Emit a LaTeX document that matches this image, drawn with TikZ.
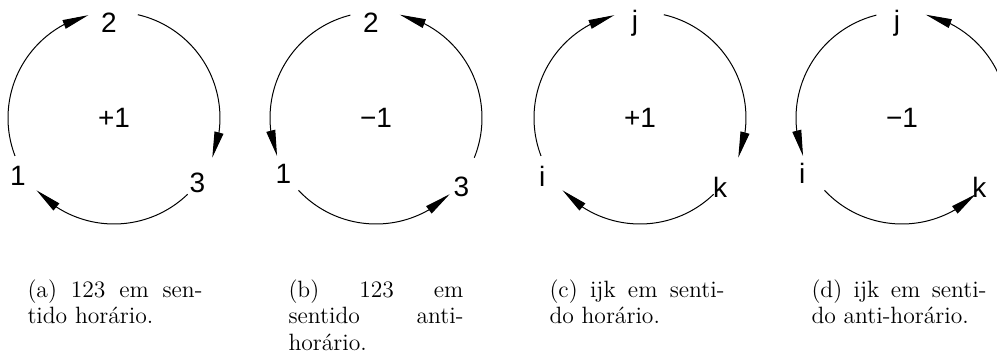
\documentclass[tikz,border=0pt]{standalone}
\usepackage{fontspec}
\newfontfamily\cadfont{Liberation Sans}
\usetikzlibrary{arrows.meta, bending}

\tikzset{
  ring/.style={line width=0.5pt, -{Triangle[length=13pt, width=4.5pt]}},
  vlabel/.style={font=\cadfont\fontsize{14}{16}\selectfont, inner sep=0pt},
  sign/.style={font=\cadfont\fontsize{14}{16}\selectfont, inner sep=0pt},
  subcap/.style={text width=87.5pt, align=justify, anchor=north, inner sep=0pt,
    font=\fontsize{11.8}{13.3}\selectfont}
}

\begin{document}
\begin{tikzpicture}[x=0.5pt, y=0.5pt]

\clip (0,0) rectangle (997,358);

% Centres
\coordinate (A) at (114,240);
\coordinate (B) at (376,240);
\coordinate (C) at (640,240);
\coordinate (D) at (902,240);

% (a) 123, clockwise
\node[vlabel] (a2) at ([shift={(93:47.5pt)}]A) {2};
\node[vlabel] (a1) at ([shift={(211:56pt)}]A) {1};
\node[vlabel] (a3) at ([shift={(-38:53pt)}]A) {3};
\node[sign] (as) at (A) {+1};
\coordinate (a23) at ([shift={(77:53pt)}]A);
\coordinate (a31) at ([shift={(-46:53pt)}]A);
\coordinate (a12) at ([shift={(201:53pt)}]A);
\draw[ring] (a23) arc[start angle=77, end angle=-22, radius=53pt];
\draw[ring] (a31) arc[start angle=-46, end angle=-137, radius=53pt];
\draw[ring] (a12) arc[start angle=201, end angle=104, radius=53pt];

% (b) 123, anticlockwise
\node[vlabel] (b2) at ([shift={(93:47.5pt)}]B) {2};
\node[vlabel] (b1) at ([shift={(211:54pt)}]B) {1};
\node[vlabel] (b3) at ([shift={(-39:55pt)}]B) {3};
\node[sign] (bs) at (B) {−1};
\coordinate (b21) at ([shift={(104:53pt)}]B);
\coordinate (b13) at ([shift={(223:53pt)}]B);
\coordinate (b32) at ([shift={(-22:53pt)}]B);
\draw[ring] (b21) arc[start angle=104, end angle=201, radius=53pt];
\draw[ring] (b13) arc[start angle=223, end angle=314, radius=53pt];
\draw[ring] (b32) arc[start angle=-22, end angle=77, radius=53pt];

% (c) ijk, clockwise
\node[vlabel] (cj) at ([shift={(93:47.5pt)}]C) {j};
\node[vlabel] (ci) at ([shift={(211:57pt)}]C) {i};
\node[vlabel] (ck) at ([shift={(-41:53pt)}]C) {k};
\node[sign] (cs) at (C) {+1};
\coordinate (cjk) at ([shift={(77:53pt)}]C);
\coordinate (cki) at ([shift={(-46:53pt)}]C);
\coordinate (cij) at ([shift={(201:53pt)}]C);
\draw[ring] (cjk) arc[start angle=77, end angle=-22, radius=53pt];
\draw[ring] (cki) arc[start angle=-46, end angle=-137, radius=53pt];
\draw[ring] (cij) arc[start angle=201, end angle=104, radius=53pt];

% (d) ijk, anticlockwise
\node[vlabel] (dj) at ([shift={(93:47.5pt)}]D) {j};
\node[vlabel] (di) at ([shift={(209:57pt)}]D) {i};
\node[vlabel] (dk) at ([shift={(-42:52pt)}]D) {k};
\node[sign] (ds) at (D) {−1};
\coordinate (dji) at ([shift={(104:53pt)}]D);
\coordinate (dik) at ([shift={(223:53pt)}]D);
\coordinate (dkj) at ([shift={(-22:53pt)}]D);
\draw[ring] (dji) arc[start angle=104, end angle=201, radius=53pt];
\draw[ring] (dik) arc[start angle=223, end angle=314, radius=53pt];
\draw[ring] (dkj) arc[start angle=-22, end angle=77, radius=53pt];

% Captions
\node[subcap] (capa) at (115,79) {(a) 123 em sen-\linebreak tido horário.};
\node[subcap] (capb) at (376,79) {(b) 123 em\linebreak sentido anti-\linebreak horário.};
\node[subcap] (capc) at (637,79) {(c) ijk em senti-\linebreak do horário.};
\node[subcap] (capd) at (899,79) {(d) ijk em senti-\linebreak do anti-horário.};

\end{tikzpicture}
\end{document}
